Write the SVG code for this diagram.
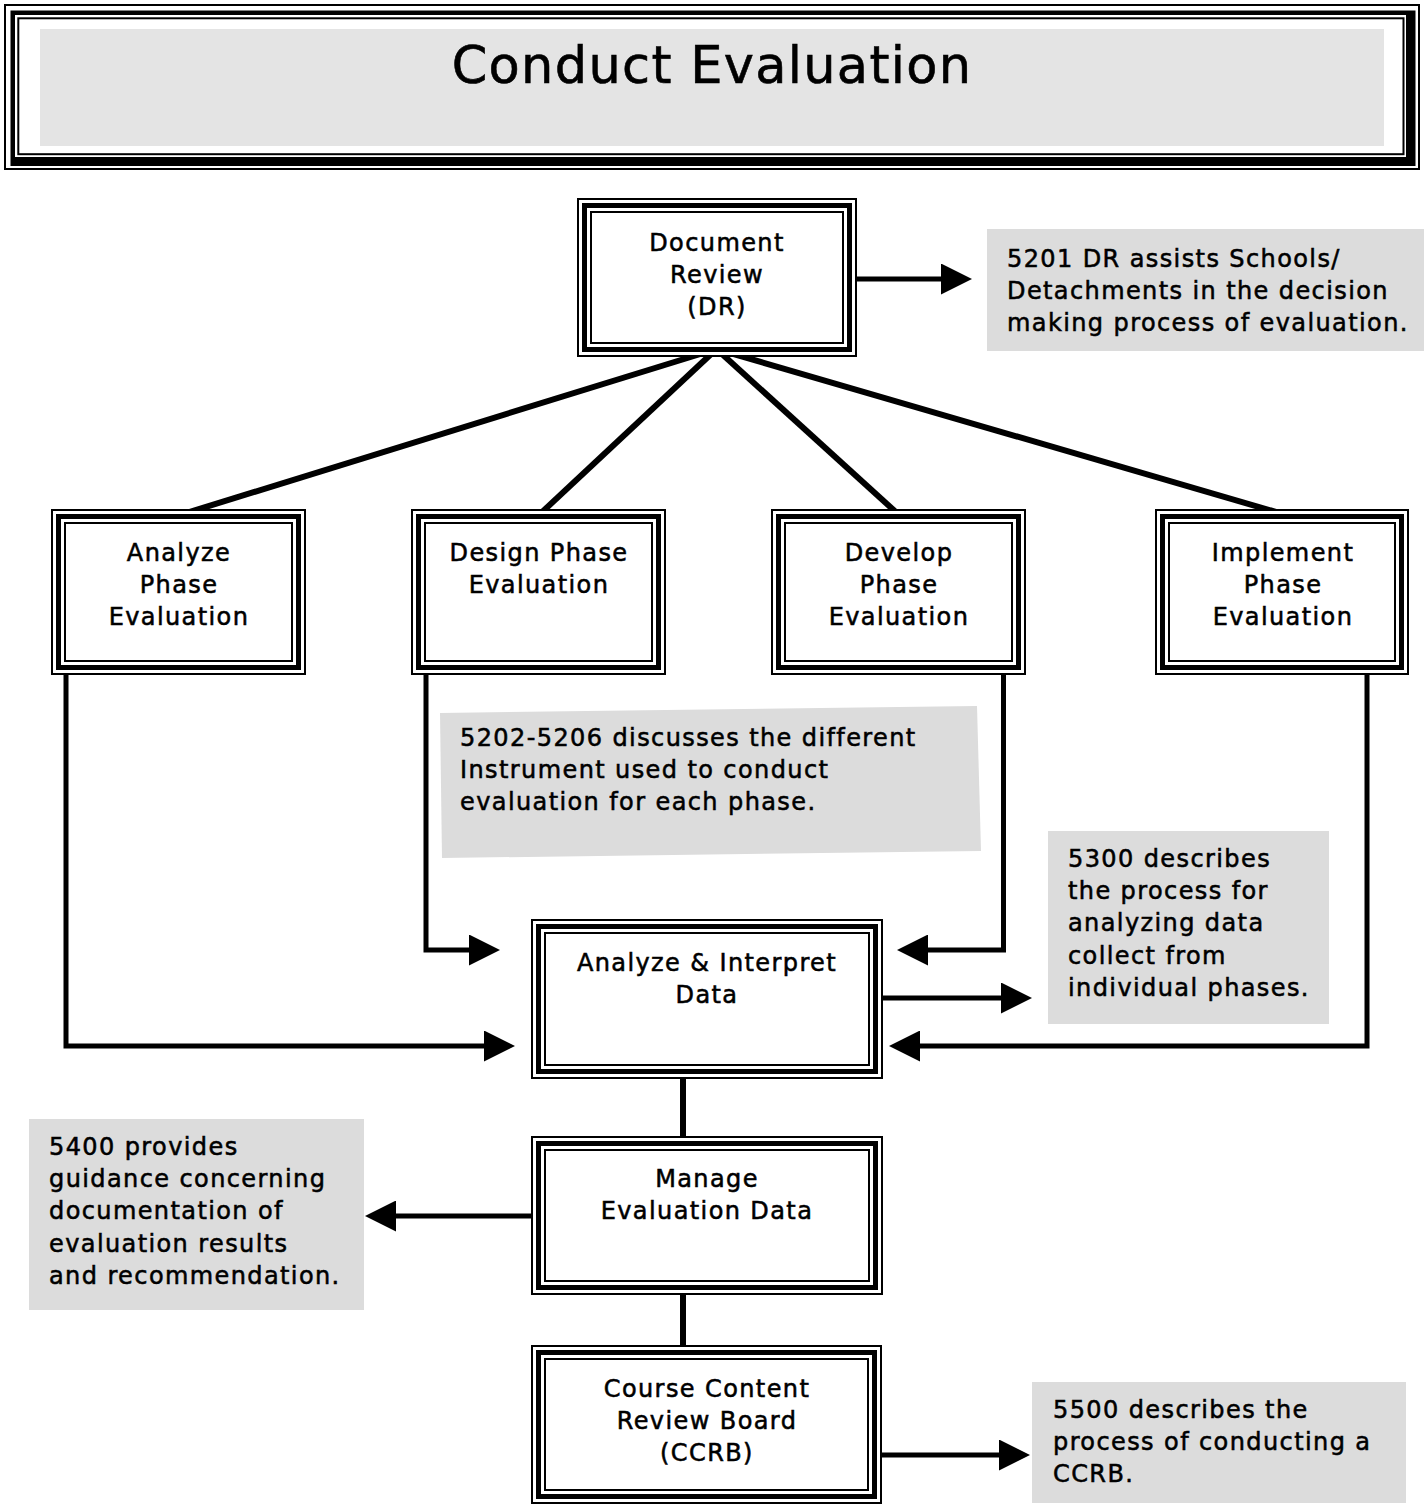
<svg xmlns="http://www.w3.org/2000/svg" width="1424" height="1505" viewBox="0 0 1424 1505">
  <defs>
    <style>
      .bg { fill: #ffffff; }
      .fo { fill: #ffffff; stroke: #000; stroke-width: 2; }
      .ft { fill: none; stroke: #000; stroke-width: 5; }
      .fi { fill: none; stroke: #000; stroke-width: 2; }
      .note { fill: #dcdcdc; }
      .lbl { font-family: "DejaVu Sans", Verdana, sans-serif; font-size: 24px; letter-spacing: 1.4px; fill: #000; stroke: #000; stroke-width: 0.55px; }
      .c { text-anchor: middle; }
      .title { font-family: "DejaVu Sans", Verdana, sans-serif; font-size: 51px; letter-spacing: 1.3px; text-anchor: middle; fill: #000; stroke: #000; stroke-width: 0.6px; }
      .wire { fill: none; stroke: #000; stroke-width: 5; stroke-linejoin: miter; stroke-linecap: butt; }
      .arrow { marker-end: url(#head); }
      .spoke { fill: none; stroke: #000; stroke-width: 6; stroke-linecap: butt; }
    </style>
    <marker id="head" markerUnits="userSpaceOnUse" markerWidth="31" markerHeight="31" viewBox="0 0 31 31" refX="1" refY="15.5" orient="auto">
      <path d="M0,0 L31,15.5 L0,31 Z" fill="#000"/>
    </marker>
  </defs>

  <rect class="bg" x="0" y="0" width="1424" height="1505"/>

  <!-- title banner with triple frame -->
  <g id="title">
    <rect x="5" y="5" width="1414" height="164" fill="none" stroke="#000" stroke-width="2"/>
    <path d="M10.5,10.5 H1415.5 V166 H10.5 Z M15,15 V157 H1406 V15 Z" fill="#000" fill-rule="evenodd"/>
    <rect x="18.3" y="18.3" width="1385.2" height="135.9" fill="none" stroke="#000" stroke-width="2"/>
    <rect x="40" y="29" width="1344" height="117" fill="#e4e4e4"/>
    <text class="title" x="712" y="83">Conduct Evaluation</text>
  </g>

  <!-- connectors -->
  <g id="connectors">
    <path class="spoke" d="M716.5,349 L183,514"/>
    <path class="spoke" d="M716.5,349 L540,514"/>
    <path class="spoke" d="M716.5,349 L898,514"/>
    <path class="spoke" d="M716.5,349 L1283,514"/>
    <path class="wire arrow" d="M857,279 H942"/>
    <path class="wire arrow" d="M66,661 V1046 H485"/>
    <path class="wire arrow" d="M426,661 V950 H470"/>
    <path class="wire arrow" d="M1003.5,661 V950 H927"/>
    <path class="wire arrow" d="M1367,661 V1046 H919"/>
    <path class="wire arrow" d="M877,998 H1002"/>
    <path class="wire arrow" d="M533,1216 H395"/>
    <path class="wire arrow" d="M880,1455 H1000"/>
    <path class="spoke" d="M683,1079 V1137"/>
    <path class="spoke" d="M683,1295 V1346"/>
  </g>

  <!-- Document Review -->
  <g id="document-review">
    <rect class="fo" x="578" y="199" width="278" height="157"/>
    <rect class="ft" x="584.5" y="205.5" width="265" height="144"/>
    <rect class="fi" x="591" y="212" width="252" height="131"/>
    <text class="lbl c" x="717" y="251">Document</text>
    <text class="lbl c" x="717" y="283">Review</text>
    <text class="lbl c" x="717" y="315">(DR)</text>
  </g>

  <!-- phase evaluations -->
  <g id="analyze-phase">
    <rect class="fo" x="52" y="510" width="253" height="164"/>
    <rect class="ft" x="58.5" y="516.5" width="240" height="151"/>
    <rect class="fi" x="65" y="523" width="227" height="138"/>
    <text class="lbl c" x="179" y="561">Analyze</text>
    <text class="lbl c" x="179" y="593">Phase</text>
    <text class="lbl c" x="179" y="625">Evaluation</text>
  </g>
  <g id="design-phase">
    <rect class="fo" x="412" y="510" width="253" height="164"/>
    <rect class="ft" x="418.5" y="516.5" width="240" height="151"/>
    <rect class="fi" x="425" y="523" width="227" height="138"/>
    <text class="lbl c" x="539" y="561">Design Phase</text>
    <text class="lbl c" x="539" y="593">Evaluation</text>
  </g>
  <g id="develop-phase">
    <rect class="fo" x="772" y="510" width="253" height="164"/>
    <rect class="ft" x="778.5" y="516.5" width="240" height="151"/>
    <rect class="fi" x="785" y="523" width="227" height="138"/>
    <text class="lbl c" x="899" y="561">Develop</text>
    <text class="lbl c" x="899" y="593">Phase</text>
    <text class="lbl c" x="899" y="625">Evaluation</text>
  </g>
  <g id="implement-phase">
    <rect class="fo" x="1156" y="510" width="252" height="164"/>
    <rect class="ft" x="1162.5" y="516.5" width="239" height="151"/>
    <rect class="fi" x="1169" y="523" width="226" height="138"/>
    <text class="lbl c" x="1283" y="561">Implement</text>
    <text class="lbl c" x="1283" y="593">Phase</text>
    <text class="lbl c" x="1283" y="625">Evaluation</text>
  </g>

  <!-- Analyze & Interpret Data -->
  <g id="analyze-interpret">
    <rect class="fo" x="532" y="920" width="350" height="158"/>
    <rect class="ft" x="538.5" y="926.5" width="337" height="145"/>
    <rect class="fi" x="545" y="933" width="324" height="132"/>
    <text class="lbl c" x="707" y="971">Analyze &amp; Interpret</text>
    <text class="lbl c" x="707" y="1003">Data</text>
  </g>

  <!-- Manage Evaluation Data -->
  <g id="manage-data">
    <rect class="fo" x="532" y="1137" width="350" height="157"/>
    <rect class="ft" x="538.5" y="1143.5" width="337" height="144"/>
    <rect class="fi" x="545" y="1150" width="324" height="131"/>
    <text class="lbl c" x="707" y="1187">Manage</text>
    <text class="lbl c" x="707" y="1219">Evaluation Data</text>
  </g>

  <!-- Course Content Review Board -->
  <g id="ccrb">
    <rect class="fo" x="532" y="1346" width="349" height="157"/>
    <rect class="ft" x="538.5" y="1352.5" width="336" height="144"/>
    <rect class="fi" x="545" y="1359" width="323" height="131"/>
    <text class="lbl c" x="707" y="1397">Course Content</text>
    <text class="lbl c" x="707" y="1429">Review Board</text>
    <text class="lbl c" x="707" y="1461">(CCRB)</text>
  </g>

  <!-- reference notes -->
  <g id="note-5201">
    <rect class="note" x="987" y="229" width="437" height="122"/>
    <text class="lbl" x="1007" y="267">5201 DR assists Schools/</text>
    <text class="lbl" x="1007" y="299">Detachments in the decision</text>
    <text class="lbl" x="1007" y="331">making process of evaluation.</text>
  </g>
  <g id="note-5202">
    <polygon class="note" points="440,713 977,706 981,851 442,858"/>
    <text class="lbl" x="460" y="746">5202-5206 discusses the different</text>
    <text class="lbl" x="460" y="778">Instrument used to conduct</text>
    <text class="lbl" x="460" y="810">evaluation for each phase.</text>
  </g>
  <g id="note-5300">
    <rect class="note" x="1048" y="831" width="281" height="193"/>
    <text class="lbl" x="1068" y="867">5300 describes</text>
    <text class="lbl" x="1068" y="899">the process for</text>
    <text class="lbl" x="1068" y="931">analyzing data</text>
    <text class="lbl" x="1068" y="964">collect from</text>
    <text class="lbl" x="1068" y="996">individual phases.</text>
  </g>
  <g id="note-5400">
    <rect class="note" x="29" y="1119" width="335" height="191"/>
    <text class="lbl" x="49" y="1155">5400 provides</text>
    <text class="lbl" x="49" y="1187">guidance concerning</text>
    <text class="lbl" x="49" y="1219">documentation of</text>
    <text class="lbl" x="49" y="1252">evaluation results</text>
    <text class="lbl" x="49" y="1284">and recommendation.</text>
  </g>
  <g id="note-5500">
    <rect class="note" x="1032" y="1382" width="374" height="121"/>
    <text class="lbl" x="1053" y="1418">5500 describes the</text>
    <text class="lbl" x="1053" y="1450">process of conducting a</text>
    <text class="lbl" x="1053" y="1482">CCRB.</text>
  </g>
</svg>
